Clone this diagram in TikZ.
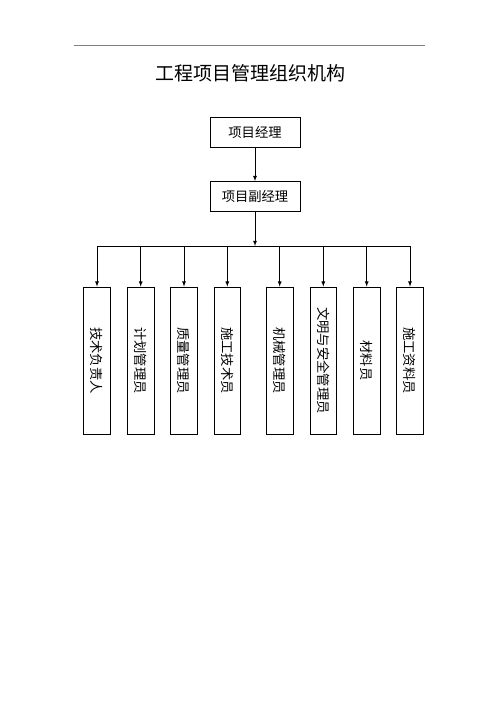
\documentclass[tikz,border=0pt]{standalone}
\usepackage{fontspec}
\usepackage{graphicx}
\setmainfont{Noto Sans CJK SC}
\usetikzlibrary{arrows}
\begin{document}
\begin{tikzpicture}[x=1pt, y=-1pt, >=latex, line width=0.8pt,
	role/.style={draw, minimum width=90pt, minimum height=30pt, inner sep=2pt, font=\fontsize{13.3}{15}\selectfont},
	staff/.style={draw, minimum width=26.7pt, minimum height=147pt, inner sep=0pt, font=\fontsize{13.3}{15}\selectfont}]
%	\draw[help lines] (0,0) grid (500,708);
	\useasboundingbox (0,0) rectangle (500,708);
	\draw[gray, line width=0.6pt] (74,45) -- (425,45);
	\node (title) at (250,73) {\fontsize{19}{22}\selectfont 工程项目管理组织机构};
	\node[role] (pm) at (255,132.5) {项目经理};
	\node[role] (dpm) at (255,196.5) {项目副经理};
	\draw[->] (pm.south) -- (dpm.north);
	\coordinate (bus) at (255,246);
	\draw[->] (dpm.south) -- (bus);
	\node[staff] (s1) at (97,360.5) {\rotatebox{-90}{技术负责人}};
	\node[staff] (s2) at (140.7,360.5) {\rotatebox{-90}{计划管理员}};
	\node[staff] (s3) at (184,360.5) {\rotatebox{-90}{质量管理员}};
	\node[staff] (s4) at (227.3,360.5) {\rotatebox{-90}{施工技术员}};
	\node[staff] (s5) at (279.7,360.5) {\rotatebox{-90}{机械管理员}};
	\node[staff] (s6) at (323.3,360.5) {\rotatebox{-90}{文明与安全管理员}};
	\node[staff] (s7) at (366.7,360.5) {\rotatebox{-90}{材料员}};
	\node[staff] (s8) at (410,360.5) {\rotatebox{-90}{施工资料员}};
	\draw (s1.north |- bus) -- (s8.north |- bus);
	\foreach \s in {s1,s2,s3,s4,s5,s6,s7,s8}
		\draw[->] (\s.north |- bus) -- (\s.north);
\end{tikzpicture}
\end{document}
